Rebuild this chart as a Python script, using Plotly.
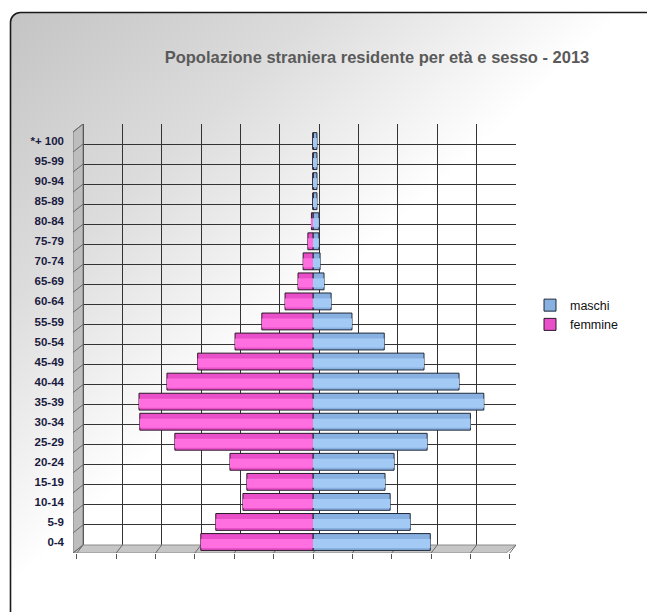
import base64
import plotly.graph_objects as go

# ---------------- data ----------------
ages = ["0-4", "5-9", "10-14", "15-19", "20-24", "25-29", "30-34", "35-39",
        "40-44", "45-49", "50-54", "55-59", "60-64", "65-69", "70-74", "75-79",
        "80-84", "85-89", "90-94", "95-99", "*+ 100"]
maschi = [29.8, 24.7, 19.6, 18.3, 20.6, 29.0, 40.0, 43.4, 37.1, 28.2, 18.1,
          9.9, 4.6, 2.8, 1.8, 1.5, 1.5, 1.0, 1.0, 1.0, 1.0]
femmine = [28.5, 24.7, 17.8, 16.8, 21.1, 35.1, 44.0, 44.2, 37.1, 29.3, 19.8,
           13.0, 7.1, 3.8, 2.5, 1.3, 0.4, 0.0, 0.0, 0.0, 0.0]
grid_values = list(range(-60, 51, 10))
title_text = "Popolazione straniera residente per età e sesso - 2013"

# ---------------- geometry (pixels) ----------------
W, H = 647, 612
PLOT_L, PLOT_R, PLOT_T, PLOT_B = 73, 516, 124, 553
BACK_L, BACK_B = 83, 545            # back wall left / bottom edge
UNIT_PX = (PLOT_R - BACK_L) / (grid_values[-1] - grid_values[0])
ROW_PX = (BACK_B - PLOT_T) / len(ages)
BAR_ZERO_PX = 313                   # bar plane zero position
BAR_ROW0_PX = 542                   # bar plane centre of first row
DEPTH_X = BACK_L - PLOT_L
DEPTH_Y = PLOT_B - BACK_B

x_main_range = [grid_values[0] - DEPTH_X / UNIT_PX, grid_values[-1]]
row0_back = BACK_B - ROW_PX / 2
y_main_range = [(row0_back - PLOT_B) / ROW_PX, (row0_back - PLOT_T) / ROW_PX]
x_bar_range = [-(BAR_ZERO_PX - PLOT_L) / UNIT_PX, (PLOT_R - BAR_ZERO_PX) / UNIT_PX]
y_bar_range = [(BAR_ROW0_PX - PLOT_B) / ROW_PX, (BAR_ROW0_PX - PLOT_T) / ROW_PX]

neg_femmine = [-v for v in femmine]

fig = go.Figure()
# base cylinders
fig.add_trace(go.Bar(y=ages, x=maschi, orientation="h", name="maschi",
                     width=0.84, xaxis="x2", yaxis="y2",
                     marker=dict(color="#88b0e0", line=dict(color="#1f2a3a", width=1))))
fig.add_trace(go.Bar(y=ages, x=neg_femmine, orientation="h", name="femmine",
                     width=0.84, xaxis="x2", yaxis="y2",
                     marker=dict(color="#e84fc8", line=dict(color="#2a1a28", width=1))))
# highlights
fig.add_trace(go.Bar(y=ages, x=maschi, orientation="h", showlegend=False,
                     hoverinfo="skip", width=0.45, xaxis="x2", yaxis="y2", offset=-0.3,
                     marker=dict(color="#a3caf5", line=dict(width=0))))
fig.add_trace(go.Bar(y=ages, x=neg_femmine, orientation="h", showlegend=False,
                     hoverinfo="skip", width=0.45, xaxis="x2", yaxis="y2", offset=-0.3,
                     marker=dict(color="#ff6fe0", line=dict(width=0))))

# ---------------- 3D floor and side wall ----------------
def xm(px):
    return x_main_range[0] + (px - PLOT_L) / UNIT_PX

def ym(py):
    return (row0_back - py) / ROW_PX

floor = (f"M{xm(PLOT_L)},{ym(PLOT_B)} L{xm(BACK_L)},{ym(BACK_B)} "
         f"L{xm(PLOT_R)},{ym(BACK_B)} L{xm(PLOT_R - DEPTH_X)},{ym(PLOT_B)} Z")
wall = (f"M{xm(PLOT_L)},{ym(PLOT_T + DEPTH_Y)} L{xm(BACK_L)},{ym(PLOT_T)} "
        f"L{xm(BACK_L)},{ym(BACK_B)} L{xm(PLOT_L)},{ym(PLOT_B)} Z")
shapes = [
    dict(type="path", path=floor, xref="x", yref="y", layer="between",
         fillcolor="#c6c6c6", line=dict(color="#8c8c8c", width=1)),
    dict(type="path", path=wall, xref="x", yref="y", layer="between",
         fillcolor="#bdbdbd", line=dict(color="#7c7c7c", width=1)),
]
floor_lines = []
for v in grid_values:
    back_px = BACK_L + (v - grid_values[0]) * UNIT_PX
    front_px = BAR_ZERO_PX + v * UNIT_PX
    floor_lines.append(f"M{xm(back_px)},{ym(BACK_B)} L{xm(front_px)},{ym(PLOT_B)}")
for k in range(len(ages) + 1):
    py = BACK_B - k * ROW_PX
    floor_lines.append(f"M{xm(BACK_L)},{ym(py)} L{xm(PLOT_L)},{ym(py + DEPTH_Y)}")
shapes.append(dict(type="path", path=" ".join(floor_lines), xref="x", yref="y",
                   layer="between", line=dict(color="#6a6a6a", width=1)))

# ---------------- background card (gradient + rounded border) ----------------
svg = f"""<svg xmlns='http://www.w3.org/2000/svg' width='{W}' height='{H}' viewBox='0 0 {W} {H}' preserveAspectRatio='none'>
<defs><linearGradient id='g' x1='0' y1='0' x2='0.75' y2='0.75'>
<stop offset='0' stop-color='#c4c4c4'/><stop offset='0.3' stop-color='#dcdcdc'/>
<stop offset='0.6' stop-color='#ffffff'/></linearGradient></defs>
<rect x='10.5' y='12.5' width='680' height='640' rx='10' ry='10' fill='url(#g)' stroke='#1a1a1a' stroke-width='1.6'/>
</svg>"""
src = "data:image/svg+xml;base64," + base64.b64encode(svg.encode()).decode()
pw, ph = PLOT_R - PLOT_L, PLOT_B - PLOT_T
images = [dict(source=src, xref="paper", yref="paper",
               x=-PLOT_L / pw, y=PLOT_B / ph, sizex=W / pw, sizey=H / ph,
               xanchor="left", yanchor="top", sizing="stretch", layer="below")]

fig.update_layout(
    width=W, height=H,
    margin=dict(l=PLOT_L, r=W - PLOT_R, t=PLOT_T, b=H - PLOT_B, pad=0),
    paper_bgcolor="white", plot_bgcolor="white",
    barmode="overlay",
    title=dict(text=f"<b>{title_text}</b>", x=377 / W, y=1 - 57 / H,
               xref="container", yref="container", xanchor="center", yanchor="middle",
               font=dict(family="Liberation Sans, Arial", size=16.5, color="#5a5a5a")),
    xaxis=dict(range=x_main_range, tickvals=grid_values, showgrid=True,
               gridcolor="#333333", gridwidth=1.2, zeroline=False,
               showticklabels=False, ticks=""),
    yaxis=dict(range=y_main_range, tickvals=[k - 0.5 for k in range(len(ages) + 1)],
               showgrid=True, gridcolor="#333333", gridwidth=1.2, zeroline=False,
               showticklabels=False, ticks=""),
    xaxis2=dict(overlaying="x", side="bottom", range=x_bar_range, tickvals=grid_values,
                ticks="outside", ticklen=5, tickcolor="#555", showticklabels=False,
                showgrid=False, zeroline=False),
    yaxis2=dict(overlaying="y", side="left", type="category", range=y_bar_range,
                showgrid=False, zeroline=False, ticks="", ticklabelstandoff=8,
                tickfont=dict(family="Liberation Sans, Arial", size=11.5, color="#1a1a40",
                              weight="bold")),
    legend=dict(x=(530 - PLOT_L) / pw, y=(PLOT_B - 315) / ph, xanchor="left",
                yanchor="middle", bgcolor="rgba(0,0,0,0)",
                font=dict(family="Liberation Sans, Arial", size=12.5, color="#111")),
    shapes=shapes, images=images,
)

fig.write_html("out.html")
